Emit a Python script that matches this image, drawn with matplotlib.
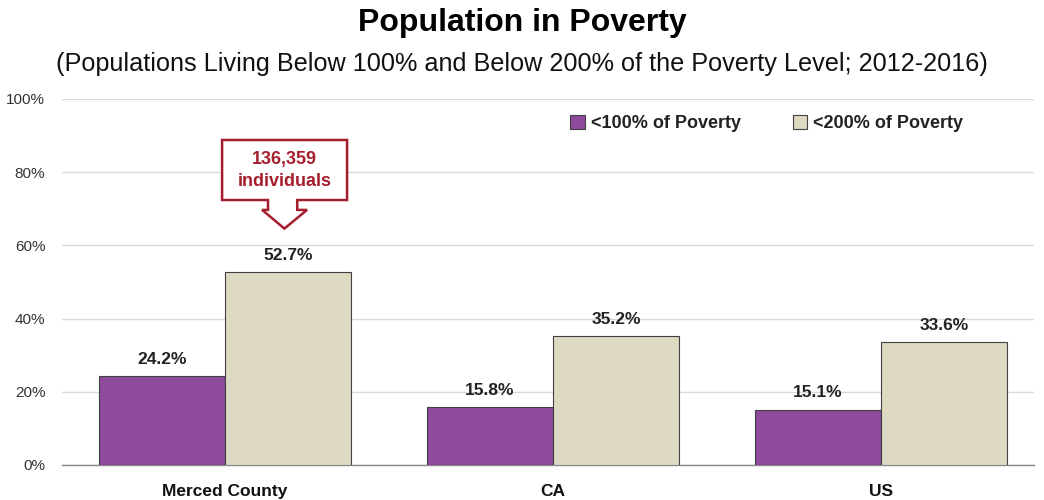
import matplotlib
matplotlib.use("Agg")
import matplotlib.pyplot as plt
from matplotlib.patches import Polygon
import numpy as np

categories = ["Merced County", "CA", "US"]
below100 = [24.2, 15.8, 15.1]
below200 = [52.7, 35.2, 33.6]
series_names = ["<100% of Poverty", "<200% of Poverty"]
yticks = [0, 20, 40, 60, 80, 100]
callout_text = "136,359\nindividuals"

plt.rcParams['font.family'] = ['Liberation Sans', 'DejaVu Sans']

purple = "#8E4A9B"
beige = "#DDD9C3"
edge = "#404040"
red = "#A51E2D"

fig = plt.figure(figsize=(10.44, 5.0), dpi=100)
ax = fig.add_axes([62/1044, 35/500, 972/1044, 366/500])

x = np.arange(len(categories))
w = 0.384
b1 = ax.bar(x - w/2, below100, w, color=purple, edgecolor=edge, linewidth=0.8, label=series_names[0], zorder=3)
b2 = ax.bar(x + w/2, below200, w, color=beige, edgecolor=edge, linewidth=0.8, label=series_names[1], zorder=3)

for bars, vals in ((b1, below100), (b2, below200)):
    for r, v in zip(bars, vals):
        ax.text(r.get_x() + r.get_width()/2, v + 2.6, f"{v:.1f}%", ha="center", va="bottom",
                fontsize=12.5, fontweight="bold", color="#222222")

ax.set_xlim(-0.497, 2.466)
ax.set_ylim(0, 100)
ax.set_yticks(yticks)
ax.set_yticklabels([f"{t}%" for t in yticks], fontsize=11, color="#333333")
ax.set_xticks(x)
ax.set_xticklabels(categories, fontsize=12.5, fontweight="bold", color="#111111")
ax.tick_params(axis="both", length=0)
ax.tick_params(axis="x", pad=14)
ax.tick_params(axis="y", pad=12)
ax.grid(axis="y", color="#D9D9D9", linewidth=1, zorder=0)
for s in ("top", "right", "left"):
    ax.spines[s].set_visible(False)
ax.spines["bottom"].set_color("#888888")
ax.spines["bottom"].set_linewidth(1)

# callout
cx = x[0]
pts = [(cx - 0.009, 88.8), (cx + 0.372, 88.8), (cx + 0.372, 72.4), (cx + 0.220, 72.4),
       (cx + 0.220, 69.7), (cx + 0.250, 69.7), (cx + 0.181, 64.6), (cx + 0.113, 69.7),
       (cx + 0.131, 69.7), (cx + 0.131, 72.4), (cx - 0.009, 72.4)]
ax.add_patch(Polygon(pts, closed=True, facecolor="white", edgecolor=red, linewidth=1.8, zorder=4))
ax.text(cx + 0.181, 80.4, callout_text, ha="center", va="center", color=red, fontsize=13,
        fontweight="bold", linespacing=1.4, zorder=5)

leg = ax.legend(loc="upper right", bbox_to_anchor=(0.944, 1.0), ncol=2, frameon=False,
                prop={"weight": "bold", "size": 13}, handlelength=0.8, handleheight=0.8,
                handletextpad=0.35, columnspacing=2.85)
for t in leg.get_texts():
    t.set_color("#222222")

fig.text(0.5, 0.954, "Population in Poverty", ha="center", va="center", fontsize=23,
         fontweight="bold")
fig.text(0.5, 0.872, "(Populations Living Below 100% and Below 200% of the Poverty Level; 2012-2016)",
         ha="center", va="center", fontsize=18.2, color="#111111")

fig.savefig("out.png", dpi=100)
